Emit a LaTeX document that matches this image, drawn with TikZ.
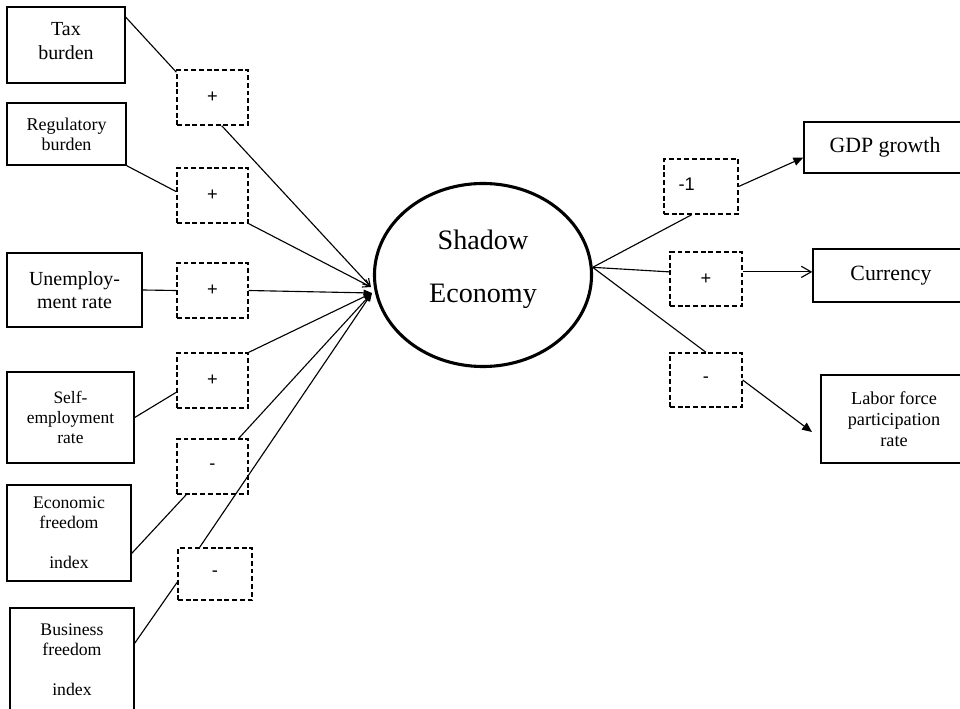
\documentclass[tikz,border=0pt]{standalone}
\usepackage{fontspec}
\setmainfont{Liberation Serif}
\newfontfamily\signfont{Liberation Sans}
\usetikzlibrary{arrows.meta,shapes.geometric}

\begin{document}
\begin{tikzpicture}[x=0.025cm,y=-0.025cm,line width=0.8pt,
  cause/.style={draw,line width=1pt,align=center,inner sep=1pt,font=\fontsize{12.6}{14.2}\selectfont},
  sign/.style={draw,dash pattern=on 3.5pt off 2pt,line width=0.9pt,minimum width=1.775cm,minimum height=1.375cm,font=\signfont\fontsize{13}{15}\selectfont},
  effect/.style={draw,line width=1pt,align=center,inner sep=1pt,font=\fontsize{15.5}{18}\selectfont},
  latent/.style={draw,ellipse,line width=2.2pt,minimum width=5.425cm,minimum height=4.575cm,inner sep=0pt},
  tip/.style={-{Triangle[length=6pt,width=4.5pt]}},
  barb/.style={-{Straight Barb[length=5pt,width=6pt]}}]
\useasboundingbox (0,0) rectangle (960,709);
\clip (0,0) rectangle (960,709);

% causes
\node[cause,minimum width=2.95cm,minimum height=1.9cm,font=\fontsize{14.2}{16.4}\selectfont] (tax) at (66,45) {Tax\\burden\\[-10.7pt]};
\node[cause,minimum width=2.975cm,minimum height=1.55cm,font=\fontsize{12.8}{14.2}\selectfont] (reg) at (66.5,134) {Regulatory\\burden};
\node[cause,minimum width=3.375cm,minimum height=1.85cm,font=\fontsize{14.2}{16.4}\selectfont] (unemp) at (74.5,290) {Unemploy-\\ment rate};
\node[cause,minimum width=3.175cm,minimum height=2.275cm,font=\fontsize{12.4}{14.2}\selectfont] (self) at (70.5,417.5) {Self-\\employment\\rate};
\node[cause,minimum width=3.1cm,minimum height=2.4cm] (econ) at (69,533) {Economic\\freedom\\[14pt]index};
\node[cause,minimum width=3.1cm,minimum height=2.6cm] (bus) at (72,660) {Business\\freedom\\[14pt]index};

% signs
\node[sign] (c_1) at (212.5,97.5) {+};
\node[sign] (c_2) at (212.5,195.5) {+};
\node[sign] (c_3) at (212.5,290.5) {+};
\node[sign] (c_4) at (212.5,380.5) {+};
\node[sign] (c_5) at (212.5,466.5) {-};
\node[sign,minimum width=1.85cm,minimum height=1.3cm] (c_6) at (215,574) {-};
\node[sign,minimum width=1.85cm] (d_1) at (701,186.5) {\makebox[32pt][l]{\raisebox{3pt}{-1}}};
\node[sign,minimum width=1.8cm,minimum height=1.35cm] (d_2) at (706,279) {+};
\node[sign,minimum width=1.8cm,minimum height=1.35cm] (d_3) at (706,380) {-};

% latent variable
\node[latent,label={[font=\fontsize{20}{37.7}\selectfont,align=center,yshift=4pt]center:Shadow\\Economy}] (se) at (483,275) {};
\coordinate (hub) at (372,293);
\coordinate (hubtop) at (371,287);

% effects
\node[effect,minimum width=4.05cm,minimum height=1.275cm] (gdp) at (885,147.5) {GDP growth};
\node[effect,minimum width=3.9cm,minimum height=1.325cm] (cur) at (891,275.5) {Currency};
\node[effect,minimum width=3.65cm,minimum height=2.2cm,font=\fontsize{13}{15}\selectfont] (lab) at (894,419) {Labor force\\participation\\rate};
\coordinate (labin) at (812,432);

\path (tax.25) edge (c_1.145)
      (reg.south east) edge (c_2.174)
      (unemp.east) edge (c_3.west)
      (self.east) edge (c_4.198)
      (econ.-18) edge (c_5.-133)
      (bus.15) edge (c_6.192);
\path[barb] (c_1.-72) edge (hubtop)
      (c_2.south east) edge (hubtop);
\path[tip] (c_3.east) edge (hub)
      (c_4.north east) edge (hub)
      (c_5.47) edge (hub)
      (c_6.120) edge (hub);

\path (se.4) edge (d_1.-108)
      (se.4) edge (d_2.169)
      (se.4) edge (d_3.north);
\path[-{Triangle[length=7pt,width=6pt]}] (d_1.east) edge (gdp.187)
      (d_3.east) edge (labin);
\path[-{Straight Barb[length=7pt,width=8pt]}] (d_2.11) edge (d_2.11 -| cur.west);
\end{tikzpicture}
\end{document}
